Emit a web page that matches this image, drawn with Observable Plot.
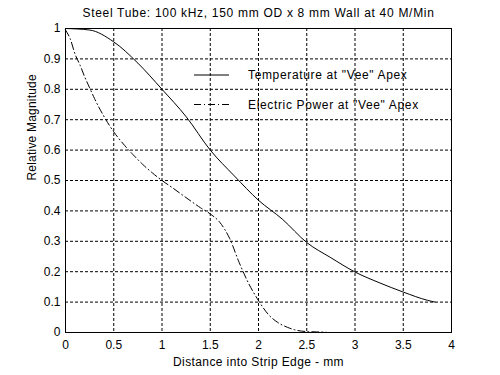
<!DOCTYPE html>
<html>
<head>
<meta charset="utf-8">
<script src="https://cdn.jsdelivr.net/npm/d3@7"></script>
<script src="https://cdn.jsdelivr.net/npm/@observablehq/plot@0.6"></script>
<style>
  html, body { margin: 0; padding: 0; background: #fff; }
  svg { display: block; }
</style>
</head>
<body>
<div id="chart"></div>
<script>
const titleText = 'Steel Tube: 100 kHz, 150 mm OD x 8 mm Wall at 40 M/Min';
const xLabel = 'Distance into Strip Edge - mm';
const yLabel = 'Relative Magnitude';
const seriesNames = ['Temperature at "Vee" Apex', 'Electric Power at "Vee" Apex'];

const xTicks = [0, 0.5, 1, 1.5, 2, 2.5, 3, 3.5, 4];
const yTicks = [0, 0.1, 0.2, 0.3, 0.4, 0.5, 0.6, 0.7, 0.8, 0.9, 1];

const tempX = [0, 0.25, 0.5, 0.75, 1.0, 1.25, 1.5, 1.75, 2.0, 2.25, 2.5, 2.75, 3.0, 3.25, 3.5, 3.75, 3.83];
const tempY = [1.0, 0.995, 0.956, 0.886, 0.80, 0.71, 0.60, 0.515, 0.435, 0.372, 0.296, 0.246, 0.199, 0.164, 0.133, 0.106, 0.10];

const powX = [0, 0.05, 0.1, 0.15, 0.2, 0.25, 0.3, 0.4, 0.5, 0.6, 0.7, 0.8, 0.9, 1.0, 1.1, 1.2, 1.3, 1.4, 1.5, 1.6, 1.7, 1.8, 1.9, 2.0, 2.1, 2.2, 2.3, 2.4, 2.5, 2.6, 2.7];
const powY = [0.995, 0.965, 0.915, 0.88, 0.84, 0.805, 0.77, 0.71, 0.66, 0.62, 0.585, 0.553, 0.525, 0.50, 0.478, 0.455, 0.432, 0.41, 0.39, 0.362, 0.31, 0.23, 0.16, 0.105, 0.06, 0.033, 0.017, 0.007, 0.003, 0.002, 0.001];

const temp = tempX.map((x, i) => ({x, y: tempY[i]}));
const pow = powX.map((x, i) => ({x, y: powY[i]}));

const font = 'Arial, "Liberation Sans", Helvetica, sans-serif';
const gridDash = '3,2';
const powDash = '7,3,1,3';

const chart = Plot.plot({
  width: 500,
  height: 375,
  marginTop: 28,
  marginLeft: 65,
  marginRight: 49,
  marginBottom: 43,
  style: {fontFamily: font, fontSize: '12px', color: 'black', background: 'white'},
  x: {domain: [0, 4], ticks: xTicks, tickFormat: d => String(d), tickSize: 0, tickPadding: 8, label: null},
  y: {domain: [0, 1], ticks: yTicks, tickFormat: d => String(d), tickSize: 0, tickPadding: 5, label: null},
  marks: [
    Plot.gridX(xTicks, {stroke: 'black', strokeOpacity: 1, strokeDasharray: gridDash, strokeWidth: 1}),
    Plot.gridY(yTicks, {stroke: 'black', strokeOpacity: 1, strokeDasharray: gridDash, strokeWidth: 1}),
    Plot.line(temp, {x: 'x', y: 'y', stroke: 'black', strokeWidth: 1, curve: 'monotone-x'}),
    Plot.line(pow, {x: 'x', y: 'y', stroke: 'black', strokeWidth: 1, strokeDasharray: powDash, curve: 'monotone-x'}),
    Plot.frame({stroke: 'black', strokeWidth: 1}),
    Plot.axisX({ticks: xTicks, tickFormat: d => String(d), tickSize: 0, tickPadding: 8, label: null, fontSize: 12}),
    Plot.axisY({ticks: yTicks, tickFormat: d => String(d), tickSize: 0, tickPadding: 5, label: null, fontSize: 12}),
    Plot.text([titleText], {frameAnchor: 'top', dy: -20, fontSize: 12, fill: 'black', className: 'ttl'}),
    Plot.text([xLabel], {frameAnchor: 'bottom', dy: 33, fontSize: 12, fill: 'black', className: 'xlab'}),
    Plot.text([yLabel], {frameAnchor: 'left', dx: -33, rotate: -90, fontSize: 12, fill: 'black', className: 'ylab'})
  ]
});

const svg = d3.select(chart);
svg.selectAll('.ttl text').style('letter-spacing', '0.7px');
svg.selectAll('.xlab text').style('letter-spacing', '0.4px');
svg.selectAll('.ylab text').style('letter-spacing', '0.2px');

// Legend (inside axes, no box), built from the series names and styles
const leg = svg.append('g').attr('font-family', font).attr('font-size', 12).attr('text-anchor', 'start');
const legendItems = [
  {name: seriesNames[0], dash: null},
  {name: seriesNames[1], dash: powDash}
];
legendItems.forEach((d, i) => {
  const y = 75 + i * 29.5;
  leg.append('line')
    .attr('x1', 194).attr('x2', 229).attr('y1', y).attr('y2', y)
    .attr('stroke', 'black').attr('stroke-width', 1)
    .attr('stroke-dasharray', d.dash);
  leg.append('text')
    .attr('x', 248).attr('y', y).attr('dy', '0.35em')
    .attr('text-anchor', 'start')
    .style('letter-spacing', '0.65px')
    .attr('fill', 'black')
    .text(d.name);
});

document.getElementById('chart').appendChild(chart);
</script>
</body>
</html>
